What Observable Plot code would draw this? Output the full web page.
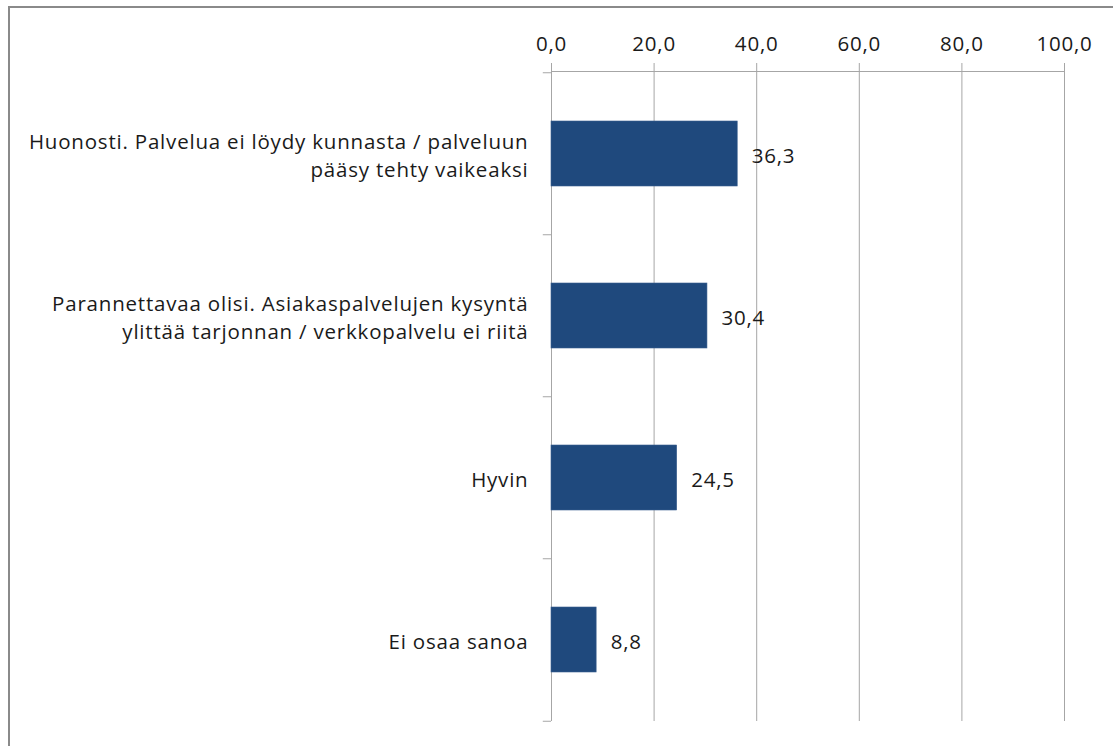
<!DOCTYPE html>
<html>
<head>
<meta charset="utf-8">
<script src="https://cdn.jsdelivr.net/npm/d3@7"></script>
<script src="https://cdn.jsdelivr.net/npm/@observablehq/plot@0.6"></script>
<style>
  html, body { margin: 0; padding: 0; background: #fff; overflow: hidden; }
  #wrap { position: relative; width: 1113px; height: 746px; }
  #border { position: absolute; left: 8px; top: 6px; width: 1200px; height: 800px;
            border-left: 2.5px solid #8a8a8a; border-top: 2.5px solid #8a8a8a; pointer-events: none; }
  #chart { position: absolute; left: 0; top: 0; }
</style>
</head>
<body>
<div id="wrap"><div id="chart"></div><div id="border"></div></div>
<script>
const categories = [
  "Huonosti. Palvelua ei löydy kunnasta / palveluun pääsy tehty vaikeaksi",
  "Parannettavaa olisi. Asiakaspalvelujen kysyntä ylittää tarjonnan / verkkopalvelu ei riitä",
  "Hyvin",
  "Ei osaa sanoa"
];
const categoryLabels = [
  "Huonosti. Palvelua ei löydy kunnasta / palveluun\npääsy tehty vaikeaksi",
  "Parannettavaa olisi. Asiakaspalvelujen kysyntä\nylittää tarjonnan / verkkopalvelu ei riitä",
  "Hyvin",
  "Ei osaa sanoa"
];
const values = [36.3, 30.4, 24.5, 8.8];
const xTicks = [0, 20, 40, 60, 80, 100];

const data = categories.map((c, i) => ({category: c, label: categoryLabels[i], value: values[i]}));
const fmt = d => d.toFixed(1).replace(".", ",");

const W = 1113, H = 746, mTop = 71, mBottom = 25, mLeft = 551, mRight = 49;
const step = (H - mTop - mBottom) / categories.length;
const gridColor = "#a6a6a6";
const font = "'Open Sans', sans-serif";
const fs = 20.5;

const chart = Plot.plot({
  width: W,
  height: H,
  marginTop: mTop,
  marginBottom: mBottom,
  marginLeft: mLeft,
  marginRight: mRight,
  style: {fontFamily: font, fontSize: fs + "px", letterSpacing: "0.8px", color: "#1a1a1a", background: "transparent"},
  x: {domain: [0, 100], axis: null},
  y: {domain: categories, paddingInner: 0.6, paddingOuter: 0.3, axis: null},
  marks: [
    Plot.gridX(xTicks, {stroke: gridColor, strokeOpacity: 1, strokeWidth: 1}),
    Plot.frame({anchor: "top", stroke: gridColor, strokeWidth: 1}),
    Plot.axisX(xTicks, {anchor: "top", tickSize: 9, tickPadding: 12, tickFormat: fmt,
      stroke: gridColor, fontSize: fs, fill: "#1a1a1a", label: null}),
    Plot.ruleX([0], {stroke: gridColor, strokeWidth: 1}),
    Plot.ruleY(categories, {y: d => d, x1: -1.6, x2: 0, dy: -step / 2, stroke: gridColor}),
    Plot.ruleY(categories.slice(-1), {y: d => d, x1: -1.6, x2: 0, dy: step / 2, stroke: gridColor}),
    Plot.barX(data, {x: "value", y: "category", fill: "#1f497d", stroke: "#3a5f8f", strokeWidth: 0.6}),
    Plot.text(data, {x: "value", y: "category", text: d => fmt(d.value), textAnchor: "start",
      dx: 14, dy: 2, fontSize: fs, fill: "#1a1a1a"}),
    Plot.text(data, {x: 0, y: "category", text: "label", textAnchor: "end", dx: -23,
      lineHeight: 1.35, fontSize: fs, fill: "#1a1a1a"})
  ]
});
document.getElementById("chart").appendChild(chart);
</script>
</body>
</html>
